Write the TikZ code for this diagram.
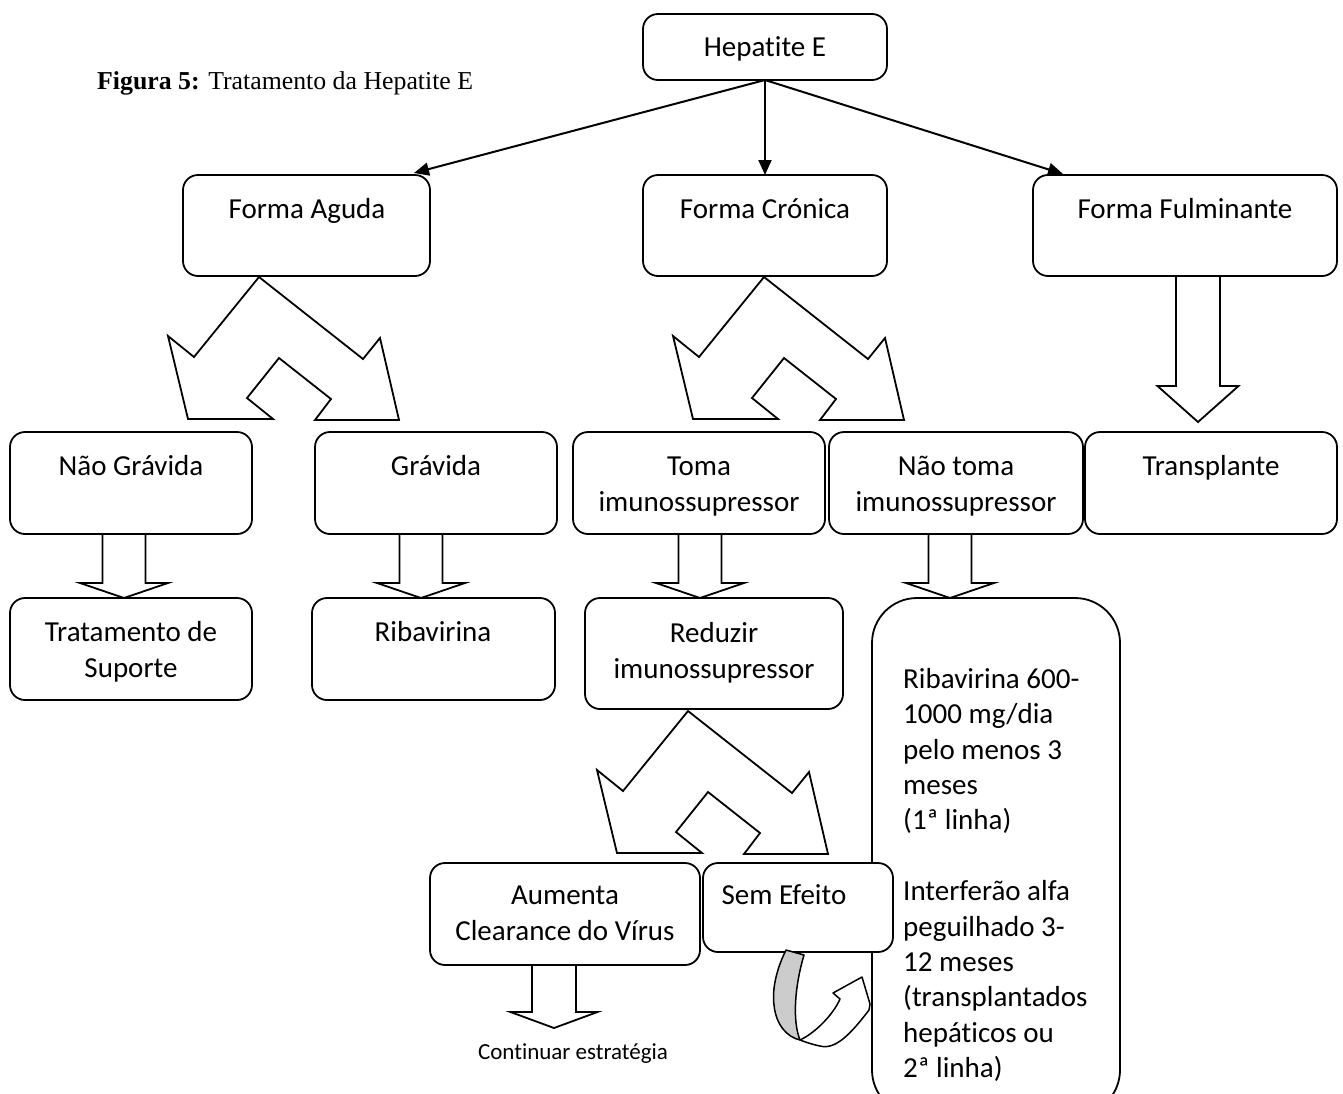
\documentclass[tikz,border=0pt]{standalone}
\usepackage{fontspec}
\setmainfont{Carlito}[Ligatures=NoCommon]
\newfontfamily\timesfont{Liberation Serif}
\usetikzlibrary{arrows.meta,calc}
\newcommand{\bx}[5]{\node[box,minimum width={(#4-#2)*1pt},minimum height={(#5-#3)*1pt},anchor=north west] (#1) at (#2,#3) {};}
% down block arrow: x, ytop, ybottom, shaft half, head half, head length
\newcommand{\downblk}[6]{\draw[blk] (#1-#4,#2) -- (#1-#4,#3-#6) -- (#1-#5,#3-#6) -- (#1,#3) -- (#1+#5,#3-#6) -- (#1+#4,#3-#6) -- (#1+#4,#2);}
\newcommand{\splitblk}[1]{\draw[blk,shift={#1}] (0,0) -- (-65,80) -- (-91,59) -- (-71,142) -- (14,142) -- (-12,121) -- (20,81) -- (72,122) -- (56,143) -- (140,143) -- (121,61) -- (104,82) -- cycle;}
\begin{document}
\begin{tikzpicture}[x=1pt,y=-1pt,
  box/.style={draw,line width=1.8pt,rounded corners=15pt,fill=white,inner sep=0pt,outer sep=0pt},
  bigbox/.style={box,rounded corners=45pt},
  txt/.style={font=\fontsize{29}{36}\selectfont,align=center,inner sep=0pt,
    execute at begin node=\strut,execute at end node=\strut},
  blk/.style={line width=1.8pt,line join=miter},
  conn/.style={line width=2pt,-{Triangle[length=15pt,width=13pt]}}]
\useasboundingbox (0,0) rectangle (1343,1093);
\clip (0,0) rectangle (1343,1093);

% title
\node[font=\timesfont\fontsize{25.8}{30}\selectfont,anchor=west,inner sep=0pt] (title) at (97,83) {\textbf{Figura 5:} Tratamento da Hepatite E};

% boxes
\bx{hep}{643}{14}{887}{80}
\bx{aguda}{183}{175}{430}{276}
\bx{cronica}{643}{175}{887}{276}
\bx{fulm}{1033}{175}{1337}{276}
\bx{naograv}{10}{432}{252}{534}
\bx{grav}{315}{432}{557}{534}
\bx{toma}{573}{432}{825}{534}
\bx{naotoma}{829}{432}{1083}{534}
\bx{transp}{1085}{432}{1337}{534}
\bx{trat}{10}{598}{252}{700}
\bx{riba}{312}{598}{555}{700}
\bx{reduz}{585}{598}{843}{709}
\node[bigbox,minimum width=248pt,minimum height=517pt,anchor=north west] (big) at (872,598) {};
\bx{aumenta}{430}{863}{700}{965}
\bx{sem}{703}{863}{893}{952}

% texts
\node[txt] (thep) at (765,49.5) {Hepatite E};
\node[txt] (taguda) at (307,211.5) {Forma Aguda};
\node[txt] (tcronica) at (765,211.5) {Forma Crónica};
\node[txt] (tfulm) at (1185,211.5) {Forma Fulminante};
\node[txt] (tnaograv) at (131,468.5) {Não Grávida};
\node[txt] (tgrav) at (436,468.5) {Grávida};
\node[txt] (ttoma) at (699,489.5) {Toma\\imunossupressor};
\node[txt] (tnaotoma) at (956,489.5) {Não toma\\imunossupressor};
\node[txt] (ttransp) at (1211,468.5) {Transplante};
\node[txt] (ttrat) at (131,654.5) {Tratamento de\\Suporte};
\node[txt] (triba) at (433,634.5) {Ribavirina};
\node[txt] (treduz) at (714,655.5) {Reduzir\\imunossupressor};
\node[txt] (taumenta) at (565,919) {Aumenta\\Clearance do Vírus};
\node[txt] (tsem) at (784,897.5) {Sem Efeito};
\node[inner sep=0pt,font=\fontsize{29}{35.4}\selectfont,align=left,anchor=north west] (tbig) at (903,668)
 {Ribavirina 600-\\1000 mg/dia\\pelo menos 3\\meses\\(1ª linha)\\[35.4pt]Interferão alfa\\peguilhado 3-\\12 meses\\(transplantados\\hepáticos ou\\2ª linha)};
\node[inner sep=0pt,font=\fontsize{23}{27}\selectfont] (tcont) at (573,1054) {Continuar estratégia};

% connectors from Hepatite E
\draw[conn] (hep.south) -- (cronica.north);
\draw[conn] (hep.south) -- ($(aguda.north east)+(-16,-2)$);
\draw[conn] (hep.south) -- ($(fulm.north west)+(30,-1)$);

% split arrows
\splitblk{(259,277)}
\splitblk{(764,277)}
\splitblk{(688,711)}

% down block arrows
\downblk{124}{534}{598}{21.5}{44}{15}
\downblk{421}{534}{598}{21.5}{44}{15}
\downblk{700}{534}{598}{21.5}{44}{15}
\downblk{950}{534}{598}{21.5}{44}{15}
\downblk{1198}{276}{422}{22}{40.5}{36}
\downblk{554}{965}{1028}{22}{43.5}{16}

% curved arrow
\filldraw[fill=black!20,line width=1.5pt,line join=round] (786,950) -- (804,955) .. controls (795,985) and (792,1020) .. (800,1040) .. controls (787,1037) and (776,1025) .. (774,1005) .. controls (772,990) and (776,970) .. (786,950) -- cycle;
\filldraw[fill=white,line width=1.5pt,line join=round] (800,1040) .. controls (815,1033) and (833,1015) .. (840,999) -- (833,993) -- (862,977) -- (870,1004) -- (869,1010) .. controls (850,1035) and (835,1050) .. (820,1046) .. controls (810,1044) and (803,1041) .. (800,1040) -- cycle;
\end{tikzpicture}
\end{document}
